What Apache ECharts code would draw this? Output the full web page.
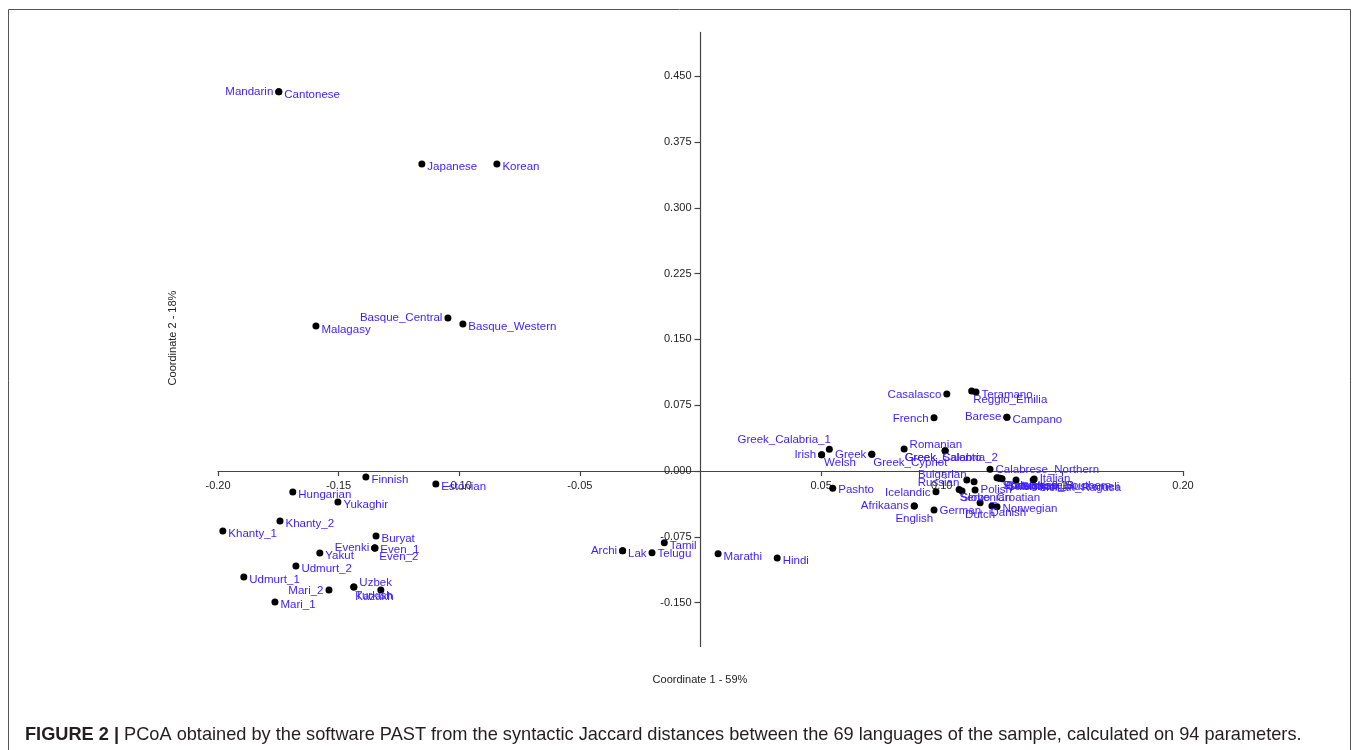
<!DOCTYPE html>
<html>
<head>
<meta charset="utf-8">
<script src="https://cdn.jsdelivr.net/npm/echarts@6/dist/echarts.min.js"></script>
<style>
  html, body { margin: 0; padding: 0; background: #fff; }
  #chart { width: 1357px; height: 750px; }
</style>
</head>
<body>
<div id="chart"></div>
<script>
// ---- Data ----
const languages = [
  'Mandarin','Cantonese','Japanese','Korean','Basque_Central','Basque_Western','Malagasy',
  'Finnish','Estonian','Hungarian','Yukaghir','Khanty_2','Khanty_1','Buryat','Evenki','Even_1','Even_2',
  'Yakut','Udmurt_2','Udmurt_1','Mari_2','Mari_1','Uzbek','Turkish','Kazakh',
  'Archi','Lak','Telugu','Tamil','Marathi','Hindi',
  'Greek_Calabria_1','Irish','Welsh','Greek','Greek_Cypriot','Pashto','Romanian','Icelandic',
  'Afrikaans','English','German','Casalasco','Reggio_Emilia','Teramano','French','Barese','Campano',
  'Greek_Salento','Greek_Calabria_2','Calabrese_Northern','Russian','Bulgarian','Slovenian',
  'Serbo_Croatian','Polish','Dutch','Danish','Norwegian','Spanish','Portuguese','Calabrese_Southern',
  'Salentino','Sicilian_Mussomeli','Italian','Sicilian_Ragusa'
];
const coordinate1 = [
  -0.1748,-0.1748,-0.1155,-0.0844,-0.1047,-0.0985,-0.1594,
  -0.1387,-0.1097,-0.1690,-0.1503,-0.1743,-0.1980,-0.1345,-0.1350,-0.1350,-0.1350,
  -0.1578,-0.1677,-0.1893,-0.1540,-0.1764,-0.1437,-0.1437,-0.1325,
  -0.0323,-0.0323,-0.0201,-0.0150,0.0073,0.0318,
  0.0534,0.0502,0.0502,0.0710,0.0710,0.0548,0.0844,0.0976,
  0.0886,0.0886,0.0968,0.1021,0.1124,0.1142,0.0968,0.1270,0.1270,
  0.1014,0.1014,0.1200,0.1104,0.1134,0.1072,
  0.1084,0.1138,0.1159,0.1208,0.1229,0.1229,0.1234,0.1242,
  0.1250,0.1308,0.1383,0.1379
];
const coordinate2 = [
  0.4322,0.4322,0.3501,0.3501,0.1745,0.1676,0.1653,
  -0.0068,-0.0148,-0.0239,-0.0353,-0.0570,-0.0684,-0.0741,-0.0878,-0.0878,-0.0878,
  -0.0935,-0.1083,-0.1209,-0.1357,-0.1494,-0.1323,-0.1323,-0.1357,
  -0.0909,-0.0909,-0.0932,-0.0818,-0.0943,-0.0992,
  0.0247,0.0186,0.0186,0.0190,0.0190,-0.0197,0.0251,-0.0236,
  -0.0399,-0.0399,-0.0445,0.0878,0.0912,0.0901,0.0608,0.0612,0.0612,
  0.0231,0.0231,0.0019,-0.0103,-0.0122,-0.0211,
  -0.0228,-0.0217,-0.0361,-0.0399,-0.0407,-0.0076,-0.0080,-0.0083,
  -0.0090,-0.0103,-0.0091,-0.0103
];
const xTicks = [-0.20,-0.15,-0.10,-0.05,0.05,0.10,0.15,0.20];
const xTickLabels = ['-0.20','-0.15','-0.10','-0.05','0.05','0.10','0.15','0.20'];
const yTicks = [-0.150,-0.075,0.000,0.075,0.150,0.225,0.300,0.375,0.450];
const yTickLabels = ['-0.150','-0.075','0.000','0.075','0.150','0.225','0.300','0.375','0.450'];
const xTitle = 'Coordinate 1 - 59%';
const yTitle = 'Coordinate 2 - 18%';
const captionBold = 'FIGURE 2 |';
const captionText = ' PCoA obtained by the software PAST from the syntactic Jaccard distances between the 69 languages of the sample, calculated on 94 parameters.';

// ---- Label placement (style only): [position, dx, dy] ----
const labelPlace = {
  Mandarin:['left',0,0], Basque_Central:['left',0,0], Malagasy:['right',0,4],
  Evenki:['left',0,0], Even_1:['right',0,2], Even_2:['right',-1,9], Mari_2:['left',0,1],
  Uzbek:['right',0,-4], Turkish:['right',-4,9], Kazakh:['right',-31,7],
  Archi:['left',0,0], Telugu:['right',0,1],
  Greek_Calabria_1:['left',7,-9], Irish:['left',0,0], Welsh:['right',-3,8],
  Greek:['left',0,1], Greek_Cypriot:['right',-4,9], Pashto:['right',0,2], Romanian:['right',0,-4],
  Icelandic:['left',0,1], Afrikaans:['left',0,0], English:['bottom',0,0], German:['right',0,1],
  Casalasco:['left',0,1], Reggio_Emilia:['right',-4,9], French:['left',0,1], Barese:['left',0,0],
  Greek_Salento:['right',-46,7], Greek_Calabria_2:['right',-46,7], Calabrese_Northern:['right',0,1],
  Bulgarian:['left',-2,-7], Russian:['left',-2,3], Slovenian:['right',-4,8], Serbo_Croatian:['right',-8,7],
  Polish:['right',0,0], Dutch:['bottom',0,0], Danish:['right',-7,7], Norwegian:['right',0,2],
  Spanish:['right',0,8], Portuguese:['right',0,8], Calabrese_Southern:['right',0,8], Salentino:['right',0,8],
  Sicilian_Mussomeli:['right',0,7], Italian:['right',0,0], Sicilian_Ragusa:['right',0,8]
};
const placeOf = n => labelPlace[n] || ['right', 0, 3];

const points = languages.map((n, i) => ({
  name: n,
  value: [coordinate1[i], coordinate2[i]],
  label: { position: placeOf(n)[0], distance: placeOf(n)[0] === 'bottom' ? 3 : 2 }
}));

function tickLabel(ticks, labels) {
  return v => {
    const i = ticks.findIndex(t => Math.abs(t - v) < 1e-9);
    return i >= 0 ? labels[i] : '';
  };
}

// grid geometry
const G = { left: 218, right: 174, top: 32.4, bottom: 103.6 };
const W = 1357, H = 750;
const XMIN = -0.2, XMAX = 0.2, YMIN = -0.2, YMAX = 0.5;
const gw = W - G.left - G.right, gh = H - G.top - G.bottom;
const zeroX = G.left + (0 - XMIN) / (XMAX - XMIN) * gw;
const zeroY = G.top + (YMAX - 0) / (YMAX - YMIN) * gh;

const chart = echarts.init(document.getElementById('chart'), null, { renderer: 'canvas' });
const FONT = '"Liberation Sans", Arial, Helvetica, sans-serif';
chart.setOption({
  backgroundColor: '#ffffff',
  animation: false,
  textStyle: { fontFamily: FONT },
  grid: { left: G.left, right: G.right, top: G.top, bottom: G.bottom, containLabel: false },
  xAxis: {
    type: 'value', min: XMIN, max: XMAX, position: 'bottom',
    offset: -(H - G.bottom - zeroY),
    axisLine: { show: true, onZero: false, lineStyle: { color: '#444', width: 1.2 } },
    axisTick: { show: true, length: 5, customValues: xTicks, lineStyle: { color: '#444', width: 1.2 } },
    axisLabel: { customValues: xTicks, formatter: tickLabel(xTicks, xTickLabels), color: '#222',
      fontSize: 11, margin: 9, fontFamily: FONT },
    splitLine: { show: false }
  },
  yAxis: {
    type: 'value', min: YMIN, max: YMAX, position: 'left',
    offset: -(zeroX - G.left),
    axisLine: { show: true, onZero: false, lineStyle: { color: '#444', width: 1.2 } },
    axisTick: { show: true, length: 6, customValues: yTicks, lineStyle: { color: '#444', width: 1.2 } },
    axisLabel: { customValues: yTicks, formatter: tickLabel(yTicks, yTickLabels), color: '#222',
      fontSize: 11, margin: 9, fontFamily: FONT },
    splitLine: { show: false }
  },
  series: [{
    type: 'scatter',
    data: points,
    symbol: 'circle',
    symbolSize: 7,
    itemStyle: { color: '#000', opacity: 1 },
    label: {
      show: true,
      formatter: '{b}',
      color: '#3c1cff',
      fontSize: 11.5,
      fontFamily: FONT
    },
    labelLayout: function (params) {
      const p = placeOf(languages[params.dataIndex]);
      return { dx: p[1], dy: p[2], hideOverlap: false };
    },
    emphasis: { disabled: true },
    z: 5
  }],
  graphic: [
    { type: 'rect', shape: { x: 8.5, y: 9.5, width: 1342, height: 800 },
      style: { fill: 'none', stroke: '#555', lineWidth: 1 }, silent: true, z: -1 },
    { type: 'text', x: 700, y: 680, style: { text: xTitle, fill: '#222', font: '11px ' + FONT,
      textAlign: 'center', textVerticalAlign: 'middle' } },
    { type: 'text', x: 173, y: 338, rotation: Math.PI / 2, style: { text: yTitle, fill: '#222',
      font: '11px ' + FONT, textAlign: 'center', textVerticalAlign: 'middle' } },
    { type: 'text', x: 25, y: 735, style: {
      text: '{b|' + captionBold + '}{n|' + captionText + '}',
      textVerticalAlign: 'middle',
      rich: {
        b: { fontWeight: 'bold', fontSize: 18.2, fontFamily: FONT, fill: '#231f20' },
        n: { fontSize: 18.2, fontFamily: FONT, fill: '#231f20' }
      }
    } }
  ]
});
</script>
</body>
</html>
